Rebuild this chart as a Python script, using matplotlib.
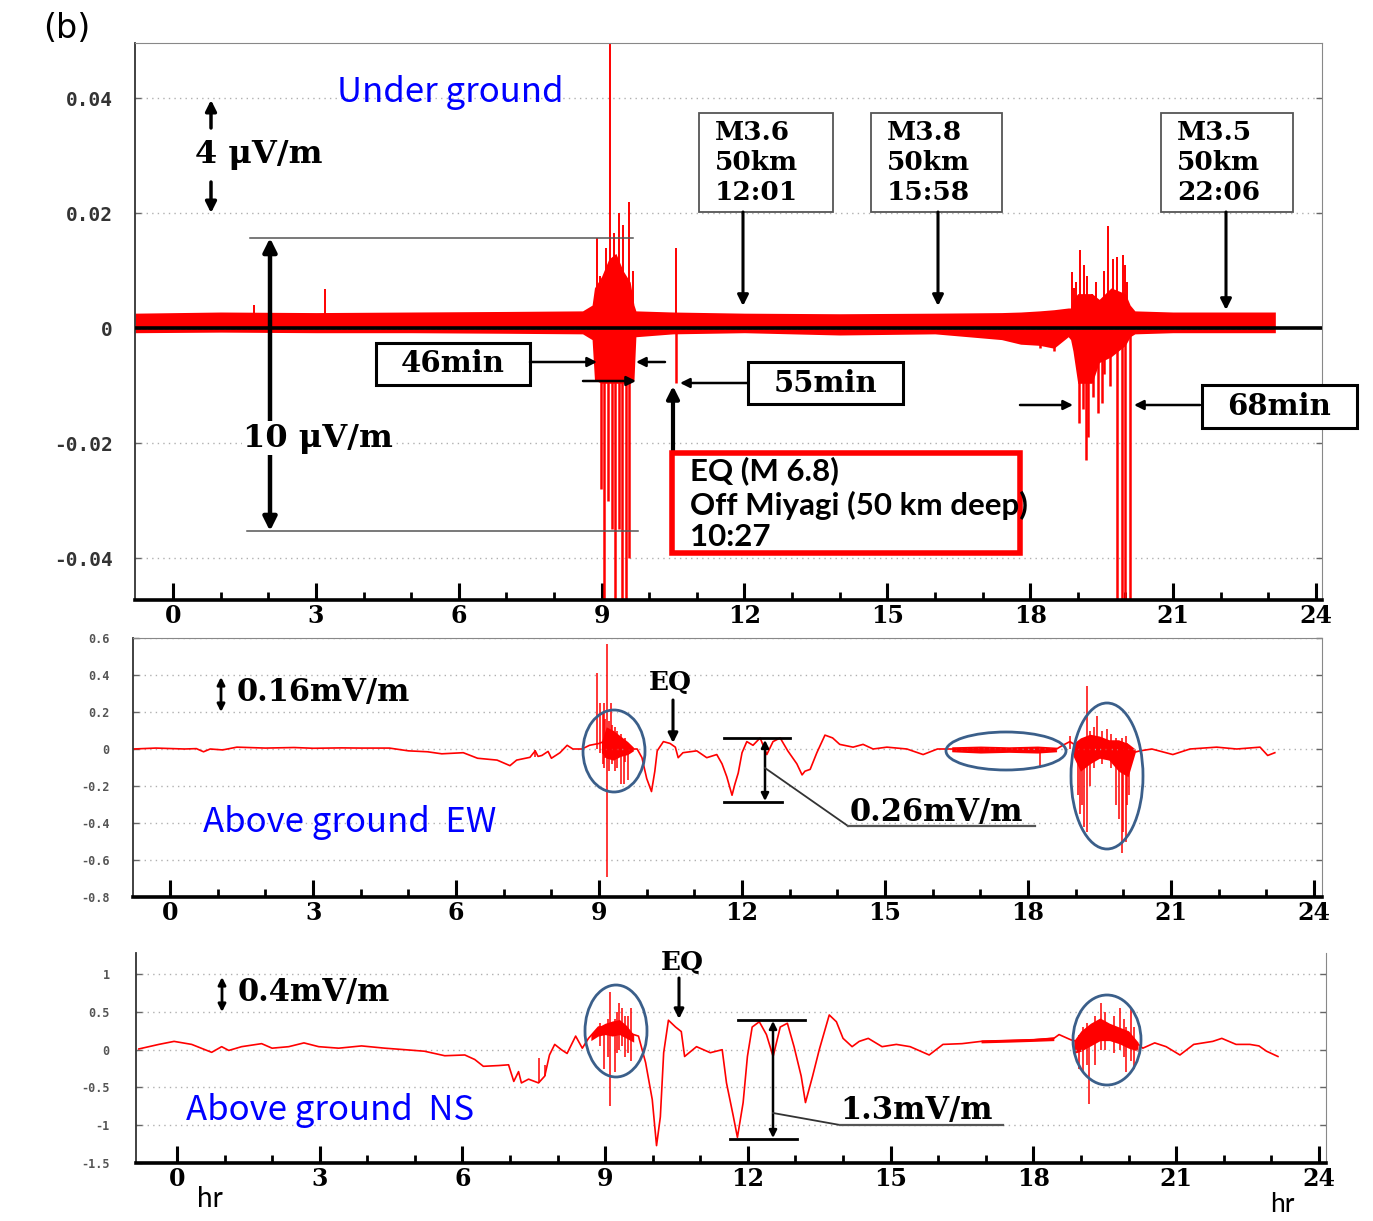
import matplotlib
matplotlib.use("Agg")
import matplotlib.pyplot as plt
from matplotlib.lines import Line2D
from matplotlib.patches import FancyArrowPatch, Rectangle, Ellipse

# ---------------- data (hours, field values) ----------------
hours_major = [0, 3, 6, 9, 12, 15, 18, 21, 24]

# underground: envelope of the dense noise band (t, low, high)
ug_band = [(-0.8, -0.0008, 0.0026), (1.0, -0.0007, 0.0028), (3.0, -0.0008, 0.0027),
           (5.0, -0.0008, 0.0028), (7.0, -0.0009, 0.0029), (8.6, -0.0010, 0.0030),
           (8.8, -0.0020, 0.0040), (8.85, -0.0090, 0.0070), (9.0, -0.0096, 0.0090),
           (9.15, -0.0096, 0.0120), (9.3, -0.0096, 0.0130), (9.45, -0.0096, 0.0100),
           (9.6, -0.0096, 0.0080), (9.68, -0.0090, 0.0040), (9.72, -0.0015, 0.0030),
           (10.5, -0.0010, 0.0028), (12.0, -0.0008, 0.0026), (14.0, -0.0012, 0.0025),
           (16.0, -0.0010, 0.0026), (17.4, -0.0020, 0.0027), (17.8, -0.0028, 0.0028),
           (18.2, -0.0030, 0.0030), (18.5, -0.0035, 0.0032), (18.8, -0.0015, 0.0035),
           (18.85, -0.0020, 0.0035), (18.9, -0.0040, 0.0050), (19.0, -0.0096, 0.0060),
           (19.3, -0.0096, 0.0060), (19.45, -0.0060, 0.0050), (19.7, -0.0050, 0.0070),
           (20.0, -0.0030, 0.0060), (20.1, -0.0015, 0.0040), (20.2, -0.0010, 0.0030),
           (21.0, -0.0008, 0.0028), (22.0, -0.0008, 0.0028), (23.15, -0.0008, 0.0028)]
# underground spikes (t, top) and (t, bottom)
ug_up = [(1.70, 0.0040), (3.19, 0.0068), (8.91, 0.0157), (8.97, 0.0090), (9.10, 0.0140),
         (9.18, 0.0600), (9.26, 0.0165), (9.37, 0.0200), (9.45, 0.0180), (9.58, 0.0220),
         (9.66, 0.0100), (10.57, 0.0140), (18.87, 0.0097), (18.93, 0.0070), (18.97, 0.0080),
         (19.05, 0.0136), (19.14, 0.0110), (19.20, 0.0090), (19.30, 0.0060), (19.38, 0.0080),
         (19.55, 0.0100), (19.64, 0.0177), (19.75, 0.0120), (19.83, 0.0123), (19.94, 0.0127),
         (20.00, 0.0110), (20.04, 0.0080)]
ug_down = [(8.99, -0.028), (9.05, -0.060), (9.14, -0.030), (9.22, -0.035), (9.29, -0.060),
           (9.37, -0.035), (9.43, -0.060), (9.52, -0.060), (9.58, -0.040), (10.57, -0.0096),
           (18.2, -0.0035), (18.5, -0.0040), (19.03, -0.0165), (19.10, -0.0140),
           (19.18, -0.0230), (19.22, -0.0190), (19.31, -0.0120), (19.43, -0.0148),
           (19.50, -0.0130), (19.56, -0.0080), (19.68, -0.0100), (19.83, -0.060),
           (19.92, -0.060), (20.00, -0.060), (20.10, -0.060)]

# above ground EW (mV/m)
ew_trace = [(-0.78, 0.0), (-0.3, 0.005), (0.3, 0.0), (0.55, 0.002), (0.7, -0.015), (0.84, 0.0),
            (1.1, -0.005), (1.4, 0.01), (2.0, 0.005), (2.6, 0.008), (3.0, 0.004), (3.6, 0.006),
            (4.0, 0.005), (4.6, 0.005), (5.0, -0.01), (5.4, -0.015), (5.7, -0.026), (6.15, -0.02),
            (6.45, -0.05), (6.86, -0.06), (7.13, -0.09), (7.27, -0.06), (7.55, -0.045),
            (7.66, -0.01), (7.72, -0.04), (7.8, -0.035), (7.93, -0.013), (8.0, -0.05),
            (8.18, -0.02), (8.33, 0.02), (8.45, 0.0), (8.64, 0.0), (8.8, 0.02), (9.0, 0.03),
            (9.2, 0.05), (9.4, 0.03), (9.6, 0.0), (9.8, 0.0), (9.9, -0.047), (10.0, -0.16),
            (10.1, -0.23), (10.17, -0.12), (10.22, -0.01), (10.35, 0.04), (10.49, 0.03),
            (10.6, 0.01), (10.66, -0.047), (10.76, -0.02), (11.05, -0.01), (11.26, -0.047),
            (11.47, -0.03), (11.58, -0.08), (11.68, -0.15), (11.79, -0.25), (11.85, -0.19),
            (11.92, -0.13), (12.0, -0.02), (12.1, 0.04), (12.23, 0.02), (12.38, 0.06),
            (12.52, -0.03), (12.65, 0.04), (12.8, 0.06), (12.96, -0.01), (13.15, -0.08),
            (13.26, -0.14), (13.32, -0.12), (13.43, -0.11), (13.57, -0.02), (13.74, 0.075),
            (13.9, 0.06), (14.05, 0.025), (14.33, 0.01), (14.54, 0.025), (14.75, 0.0),
            (15.04, 0.01), (15.46, 0.0), (15.8, -0.03), (16.1, 0.0), (16.4, 0.0),
            (17.0, -0.005), (17.6, -0.005), (18.2, -0.01), (18.6, 0.0), (18.73, 0.02),
            (18.88, 0.04), (19.0, 0.02), (19.3, 0.03), (19.6, 0.04), (19.9, 0.0), (20.2, -0.02),
            (20.35, -0.01), (20.6, 0.0), (21.04, -0.03), (21.4, 0.0), (21.96, 0.01),
            (22.38, 0.0), (22.87, 0.01), (23.03, -0.035), (23.18, -0.02)]
ew_bands = [
    [(9.05, -0.02, 0.04), (9.15, -0.05, 0.12), (9.3, -0.06, 0.10), (9.45, -0.04, 0.07),
     (9.6, -0.03, 0.04), (9.72, -0.01, 0.01)],
    [(16.4, -0.015, 0.012), (17.0, -0.022, 0.016), (17.6, -0.018, 0.012), (18.2, -0.022, 0.016),
     (18.6, -0.015, 0.01)],
    [(18.95, -0.04, 0.03), (19.1, -0.12, 0.06), (19.3, -0.08, 0.08), (19.5, -0.05, 0.07),
     (19.7, -0.06, 0.05), (19.9, -0.12, 0.05), (20.1, -0.15, 0.03), (20.25, -0.02, 0.0)],
]
ew_spikes = [(7.66, -0.045, -0.005), (8.95, 0.0, 0.41), (9.02, -0.02, 0.25), (9.08, -0.08, 0.2),
             (9.1, -0.1, 0.25), (9.13, -0.05, 0.16), (9.17, -0.69, 0.57), (9.2, -0.12, 0.15),
             (9.24, -0.05, 0.25), (9.28, -0.08, 0.13), (9.33, -0.12, 0.12), (9.38, -0.1, 0.1),
             (9.45, -0.19, 0.08), (9.52, -0.19, 0.05), (9.55, -0.07, 0.06), (9.6, -0.17, 0.03),
             (18.25, -0.1, 0.0), (18.88, 0.0, 0.07), (19.05, -0.25, 0.02), (19.1, -0.35, 0.0),
             (19.13, -0.3, 0.05), (19.17, -0.42, 0.05), (19.23, -0.45, 0.34), (19.3, -0.2, 0.1),
             (19.38, -0.1, 0.12), (19.45, -0.05, 0.18), (19.55, -0.08, 0.1), (19.65, -0.05, 0.11),
             (19.75, -0.1, 0.08), (19.85, -0.3, 0.06), (19.9, -0.38, 0.04), (19.97, -0.56, 0.06),
             (20.0, -0.45, 0.04), (20.05, -0.5, 0.07), (20.08, -0.3, 0.03), (20.12, -0.25, 0.02)]

# above ground NS (mV/m)
ns_trace = [(-0.8, 0.01), (-0.38, 0.07), (-0.06, 0.11), (0.31, 0.07), (0.73, -0.035), (0.94, 0.04),
            (1.09, -0.01), (1.36, 0.04), (1.78, 0.08), (2.0, 0.02), (2.35, 0.04), (2.67, 0.09),
            (2.98, 0.04), (3.4, 0.02), (3.88, 0.05), (4.37, 0.02), (4.79, 0.0), (5.2, -0.02),
            (5.63, -0.08), (6.05, -0.07), (6.26, -0.13), (6.44, -0.22), (6.76, -0.21),
            (6.97, -0.2), (7.08, -0.42), (7.18, -0.29), (7.24, -0.44), (7.39, -0.39),
            (7.6, -0.44), (7.73, -0.35), (7.83, -0.07), (7.94, 0.07), (8.08, 0.0), (8.2, -0.05),
            (8.38, 0.18), (8.52, 0.02), (8.65, 0.15), (8.86, 0.3), (9.0, 0.3), (9.2, 0.28),
            (9.4, 0.25), (9.6, 0.2), (9.7, 0.18), (9.85, -0.17), (9.99, -0.66), (10.08, -1.27),
            (10.16, -0.89), (10.23, -0.04), (10.33, 0.39), (10.48, 0.3), (10.6, 0.24),
            (10.67, -0.09), (10.92, 0.04), (11.21, -0.04), (11.46, 0.0), (11.55, -0.44),
            (11.69, -0.87), (11.78, -1.16), (11.9, -0.7), (11.99, -0.09), (12.09, 0.3),
            (12.24, 0.37), (12.39, 0.2), (12.53, -0.09), (12.68, 0.3), (12.83, 0.35),
            (12.97, 0.04), (13.12, -0.35), (13.21, -0.7), (13.36, -0.35), (13.5, 0.0),
            (13.71, 0.46), (13.86, 0.37), (14.0, 0.15), (14.19, 0.04), (14.34, 0.11),
            (14.53, 0.15), (14.82, 0.04), (15.12, 0.07), (15.41, 0.04), (15.81, -0.07),
            (16.1, 0.07), (16.5, 0.08), (16.9, 0.11), (17.5, 0.12), (18.0, 0.13), (18.43, 0.15),
            (18.54, 0.2), (18.79, 0.13), (19.0, 0.1), (19.3, 0.3), (19.6, 0.28), (19.9, 0.15),
            (20.15, 0.1), (20.3, 0.02), (20.55, 0.09), (20.79, 0.04), (21.08, -0.07),
            (21.37, 0.07), (21.77, 0.11), (21.96, 0.15), (22.26, 0.07), (22.55, 0.07),
            (22.74, 0.05), (22.9, -0.02), (23.14, -0.09)]
ns_bands = [
    [(8.7, 0.12, 0.2), (8.85, 0.18, 0.3), (9.0, 0.2, 0.35), (9.15, 0.18, 0.38),
     (9.3, 0.2, 0.4), (9.45, 0.15, 0.32), (9.6, 0.1, 0.2)],
    [(16.9, 0.09, 0.13), (17.5, 0.1, 0.14), (18.0, 0.11, 0.15), (18.43, 0.12, 0.17)],
    [(18.85, -0.05, 0.12), (19.0, -0.02, 0.25), (19.2, 0.05, 0.35), (19.4, 0.12, 0.42),
     (19.6, 0.12, 0.35), (19.8, 0.08, 0.3), (20.0, 0.02, 0.25), (20.2, -0.02, 0.1)],
]
ns_spikes = [(7.62, -0.44, -0.11), (7.73, -0.35, -0.2), (8.9, 0.05, 0.35), (8.98, -0.26, 0.3),
             (9.05, -0.1, 0.4), (9.11, -0.75, 0.77), (9.2, -0.3, 0.4), (9.25, -0.05, 0.5),
             (9.3, 0.0, 0.62), (9.35, 0.05, 0.55), (9.42, -0.1, 0.45), (9.48, -0.05, 0.45),
             (9.55, -0.15, 0.55), (18.95, -0.25, 0.2), (19.05, -0.3, 0.3), (19.12, -0.2, 0.35),
             (19.17, -0.72, 0.2), (19.3, -0.2, 0.45), (19.42, 0.0, 0.62), (19.5, 0.0, 0.5),
             (19.7, -0.05, 0.45), (19.82, 0.0, 0.55), (19.9, -0.1, 0.4), (19.95, -0.3, 0.3),
             (20.05, -0.15, 0.55), (20.12, -0.25, 0.3)]

ug_ticks = [0.04, 0.02, 0, -0.02, -0.04]
ug_ticklabels = ["0.04", "0.02", "0", "-0.02", "-0.04"]
ew_ticks = [0.6, 0.4, 0.2, 0, -0.2, -0.4, -0.6, -0.8]
ew_ticklabels = ["0.6", "0.4", "0.2", "0", "-0.2", "-0.4", "-0.6", "-0.8"]
ns_ticks = [1, 0.5, 0, -0.5, -1, -1.5]
ns_ticklabels = ["1", "0.5", "0", "-0.5", "-1", "-1.5"]

# ---------------- figure ----------------
W, H = 1373, 1221
fig = plt.figure(figsize=(W / 100, H / 100), dpi=100)
RED = "#ff0000"
ELL = "#3b5f8a"
SERIF = dict(family="DejaVu Serif", weight="bold")


def fx(px):
    return px / W


def fy(py):
    return 1 - py / H


def axes_px(l, t, r, b):
    return fig.add_axes([l / W, 1 - b / H, (r - l) / W, (b - t) / H])


def style(ax, xlim, ylim, ticks, labels, yfs, ycol, ypad, top=True):
    ax.set_xlim(*xlim)
    ax.set_ylim(*ylim)
    ax.set_xticks(hours_major)
    ax.set_xticks(range(0, 25), minor=True)
    ax.set_xticklabels([str(h) for h in hours_major], fontsize=17, **SERIF)
    ax.tick_params(axis="x", which="major", direction="in", length=12, width=2.2, pad=3)
    ax.tick_params(axis="x", which="minor", direction="in", length=6, width=2.0)
    ax.set_yticks(ticks)
    ax.set_yticklabels(labels, fontsize=yfs, family="DejaVu Sans Mono",
                       weight="bold", color=ycol)
    ax.tick_params(axis="y", direction="in", length=4, width=1, pad=ypad,
                   right=True, color="#666666")
    ax.yaxis.grid(True, ls=(0, (1, 3)), color="#b0b0b0", lw=1)
    ax.spines["bottom"].set_linewidth(2.6)
    ax.spines["left"].set_color("#333333")
    ax.spines["left"].set_linewidth(1.3)
    ax.spines["right"].set_color("#888888")
    ax.spines["top"].set_color("#888888")
    ax.spines["top"].set_visible(top)


def draw_bands(ax, bands, spikes, lw):
    for band in bands:
        ax.fill_between([b[0] for b in band], [b[1] for b in band], [b[2] for b in band],
                        color=RED, lw=0)
    ax.vlines([s[0] for s in spikes], [s[1] for s in spikes], [s[2] for s in spikes],
              color=RED, lw=lw)


# top: under ground
ax1 = axes_px(135, 43, 1322, 600)
ax1.fill_between([b[0] for b in ug_band], [b[1] for b in ug_band], [b[2] for b in ug_band],
                 color=RED, lw=0)
ax1.vlines([s[0] for s in ug_up], 0, [s[1] for s in ug_up], color=RED, lw=1.4)
ax1.vlines([s[0] for s in ug_down], [s[1] for s in ug_down], 0, color=RED, lw=1.8)
ax1.axhline(0, color="black", lw=2.6, zorder=3)
style(ax1, (-0.8, 24.13), (-0.0473, 0.0496), ug_ticks, ug_ticklabels, 14, "#333333", 16)

# middle: EW
ax2 = axes_px(133, 638, 1322, 897)
ax2.plot([p[0] for p in ew_trace], [p[1] for p in ew_trace], color=RED, lw=1.2)
draw_bands(ax2, ew_bands, ew_spikes, 1.1)
style(ax2, (-0.78, 24.17), (-0.8, 0.6), ew_ticks, ew_ticklabels, 8.5, "#555555", 17)

# bottom: NS
ax3 = axes_px(136, 953, 1326, 1163)
ax3.plot([p[0] for p in ns_trace], [p[1] for p in ns_trace], color=RED, lw=1.2)
draw_bands(ax3, ns_bands, ns_spikes, 1.1)
style(ax3, (-0.86, 24.15), (-1.5, 1.28), ns_ticks, ns_ticklabels, 8.5, "#555555", 19, top=False)


# ---------------- annotations (pixel positions) ----------------
def line(x0, y0, x1, y1, lw=1.2, color="black"):
    fig.add_artist(Line2D([fx(x0), fx(x1)], [fy(y0), fy(y1)], transform=fig.transFigure,
                          lw=lw, color=color, zorder=4))


def arrow(x0, y0, x1, y1, lw=2.2, style_="-|>", ms=16):
    fig.add_artist(FancyArrowPatch((fx(x0), fy(y0)), (fx(x1), fy(y1)),
                                   transform=fig.transFigure, arrowstyle=style_,
                                   mutation_scale=ms, lw=lw, color="black",
                                   shrinkA=0, shrinkB=0, zorder=4))


def box(x0, y0, x1, y1, ec="black", lw=2.2):
    fig.add_artist(Rectangle((fx(x0), fy(y1)), (x1 - x0) / W, (y1 - y0) / H,
                             transform=fig.transFigure, fc="white", ec=ec, lw=lw, zorder=4))


def txt(px, py, s, ha="center", **kw):
    fig.text(fx(px), fy(py), s, ha=ha, va="center", zorder=5, **kw)


def ellipse(cx, cy, w, h):
    fig.add_artist(Ellipse((fx(cx), fy(cy)), w / W, h / H, transform=fig.transFigure,
                           fill=False, ec=ELL, lw=2, zorder=4))


txt(67, 28, "(b)", fontsize=24, family="DejaVu Sans")

# top panel
txt(450, 93, "Under ground", fontsize=25, color="#0000ff", family="Noto Sans CJK JP")
arrow(211, 128, 211, 100, lw=2.5)
txt(259, 155, "4 μV/m", fontsize=23, **SERIF)
arrow(211, 182, 211, 213, lw=2.5)
line(250, 238, 633, 238, lw=1.1, color="#555555")
line(247, 531, 638, 531, lw=1.1, color="#555555")
arrow(270, 238, 270, 531, lw=3.2, style_="<|-|>", ms=20)
fig.text(fx(318), fy(438), "10 μV/m", ha="center", va="center", fontsize=23, zorder=5,
         bbox=dict(fc="white", ec="none", pad=1), **SERIF)

box(376, 343, 530, 385)
txt(453, 364, "46min", fontsize=21, **SERIF)
arrow(530, 362, 597, 362, lw=1.8, ms=14)
arrow(665, 362, 636, 362, lw=1.8, ms=14)
arrow(583, 381, 636, 381, lw=1.8, ms=14)

box(748, 362, 903, 404)
txt(825, 383, "55min", fontsize=21, **SERIF)
arrow(748, 383, 680, 383, lw=1.8, ms=14)
arrow(673, 452, 673, 386, lw=3, ms=18)

box(672, 453, 1020, 553, ec=RED, lw=4)
for py, s in [(471, "EQ (M 6.8)"), (505, "Off Miyagi (50 km deep)"), (537, "10:27")]:
    txt(690, py, s, ha="left", fontsize=22.5, family="Lato", weight="bold")

for x0, x1, xa, ya, lines3 in [(699, 833, 743, 306, ("M3.6", "50km", "12:01")),
                               (871, 1002, 938, 306, ("M3.8", "50km", "15:58")),
                               (1161, 1293, 1226, 310, ("M3.5", "50km", "22:06"))]:
    box(x0, 113, x1, 212, ec="#555555", lw=1.3)
    for py, s in zip((133, 163, 193), lines3):
        txt(x0 + 16, py, s, ha="left", fontsize=19, **SERIF)
    arrow(xa, 212, xa, ya, lw=2.2, ms=16)

box(1202, 385, 1357, 428)
txt(1279, 407, "68min", fontsize=21, **SERIF)
arrow(1020, 405, 1073, 405, lw=1.8, ms=14)
arrow(1200, 405, 1134, 405, lw=1.8, ms=14)

# middle panel
arrow(221, 677, 221, 712, lw=2, style_="<|-|>", ms=11)
txt(237, 693, "0.16mV/m", ha="left", fontsize=22, **SERIF)
txt(670, 683, "EQ", fontsize=19, **SERIF)
arrow(673, 700, 673, 743, lw=2.2, ms=14)
line(724, 738, 790, 738, lw=2)
line(724, 802, 782, 802, lw=2)
arrow(765, 740, 765, 801, lw=1.8, style_="<|-|>", ms=11)
line(765, 768, 848, 826, lw=1.3, color="#333333")
line(848, 826, 1035, 826, lw=1.6, color="#555555")
txt(850, 812, "0.26mV/m", ha="left", fontsize=22, **SERIF)
txt(203, 822, "Above ground  EW", ha="left", fontsize=25, color="#0000ff",
    family="Noto Sans CJK JP")
ellipse(614, 751, 62, 82)
ellipse(1006, 751, 120, 38)
ellipse(1107, 776, 72, 146)

# bottom panel
arrow(222, 977, 222, 1012, lw=2, style_="<|-|>", ms=11)
txt(238, 993, "0.4mV/m", ha="left", fontsize=22, **SERIF)
txt(682, 963, "EQ", fontsize=19, **SERIF)
arrow(679, 978, 679, 1019, lw=2.2, ms=14)
line(738, 1020, 805, 1020, lw=2)
line(730, 1139, 797, 1139, lw=2)
arrow(773, 1021, 773, 1138, lw=1.8, style_="<|-|>", ms=11)
line(773, 1113, 840, 1125, lw=1.3, color="#333333")
line(840, 1125, 1003, 1125, lw=1.6, color="#555555")
txt(840, 1110, "1.3mV/m", ha="left", fontsize=22, **SERIF)
txt(186, 1110, "Above ground  NS", ha="left", fontsize=25, color="#0000ff",
    family="Noto Sans CJK JP")
ellipse(616, 1031, 62, 92)
ellipse(1107, 1040, 68, 90)

txt(210, 1199, "hr", fontsize=20, family="Lato")
txt(1282, 1204, "hr", fontsize=19, family="Lato")

fig.savefig("out.png", dpi=100)
